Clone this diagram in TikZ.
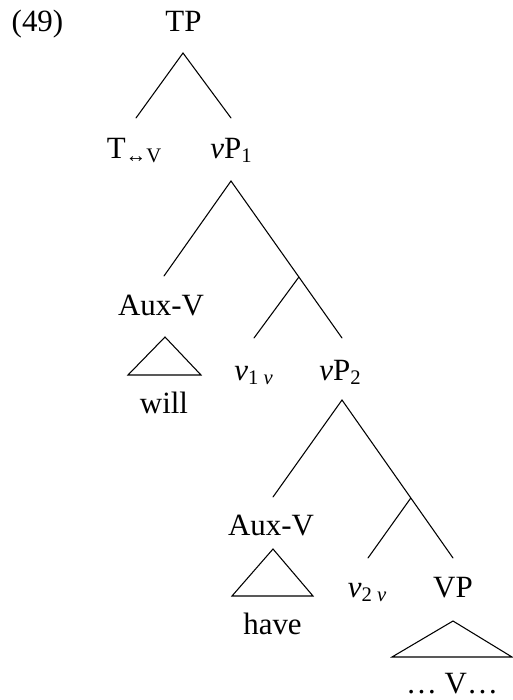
\documentclass[tikz,border=0pt]{standalone}
\usepackage{fontspec}
\setmainfont{Liberation Serif}
\newcommand{\lbsub}[1]{\raisebox{-0.16em}{\fontsize{15.5}{17}\selectfont #1}}
\begin{document}
\begin{tikzpicture}[x=0.75pt,y=-0.75pt,
  lab/.style={inner sep=0pt,anchor=base,font=\fontsize{23.2}{27}\selectfont},
  br/.style={line width=0.8pt,line cap=round}]
\useasboundingbox (0,0) rectangle (513,700);
% labels (positions are baselines)
\node[lab] (ex) at (37.5,31) {(49)};
\node[lab] (tp) at (183.5,31) {TP};
\node[lab] (t) at (134,158) {T\lbsub{↔V}};
\node[lab] (vp1) at (231,158) {\textit{v}P\lbsub{1}};
\node[lab] (aux1) at (161,315) {Aux-V};
\node[lab] (will) at (164,413) {will};
\node[lab] (v1) at (253.5,380) {\textit{v}\lbsub{1 \textit{v}}};
\node[lab] (vp2) at (340,380) {\textit{v}P\lbsub{2}};
\node[lab] (aux2) at (271,535) {Aux-V};
\node[lab] (have) at (272.5,634) {have};
\node[lab] (v2) at (367,597) {\textit{v}\lbsub{2 \textit{v}}};
\node[lab] (vp) at (453,597) {VP};
\node[lab,text depth=0pt] (dots) at (452,693) {… V…};
% branch points
\coordinate (tpa) at (183,53);
\coordinate (tl) at (136,118);
\coordinate (tr) at (231,118);
\coordinate (va) at (231,181);
\coordinate (vl) at (164,276);
\coordinate (vr) at (342,338);
\coordinate (vi) at (298.9,277);
\coordinate (vil) at (254,338);
\coordinate (wa) at (342,400);
\coordinate (wl) at (273,497);
\coordinate (wr) at (453,558);
\coordinate (wi) at (410.8,498);
\coordinate (wil) at (368,558);
% triangles
\coordinate (t1a) at (165,337);
\coordinate (t1l) at (128,375);
\coordinate (t1r) at (201,375);
\coordinate (t2a) at (273,549);
\coordinate (t2l) at (232,596);
\coordinate (t2r) at (313,596);
\coordinate (t3a) at (453,621);
\coordinate (t3l) at (392,657);
\coordinate (t3r) at (512,657);
% edges
\draw[br] (tl) -- (tpa) -- (tr);
\draw[br] (vl) -- (va) -- (vr);
\draw[br] (vi) -- (vil);
\draw[br] (wl) -- (wa) -- (wr);
\draw[br] (wi) -- (wil);
\draw[br,line join=miter] (t1a) -- (t1l) -- (t1r) -- cycle;
\draw[br,line join=miter] (t2a) -- (t2l) -- (t2r) -- cycle;
\draw[br,line join=miter] (t3a) -- (t3l) -- (t3r) -- cycle;
\end{tikzpicture}
\end{document}
